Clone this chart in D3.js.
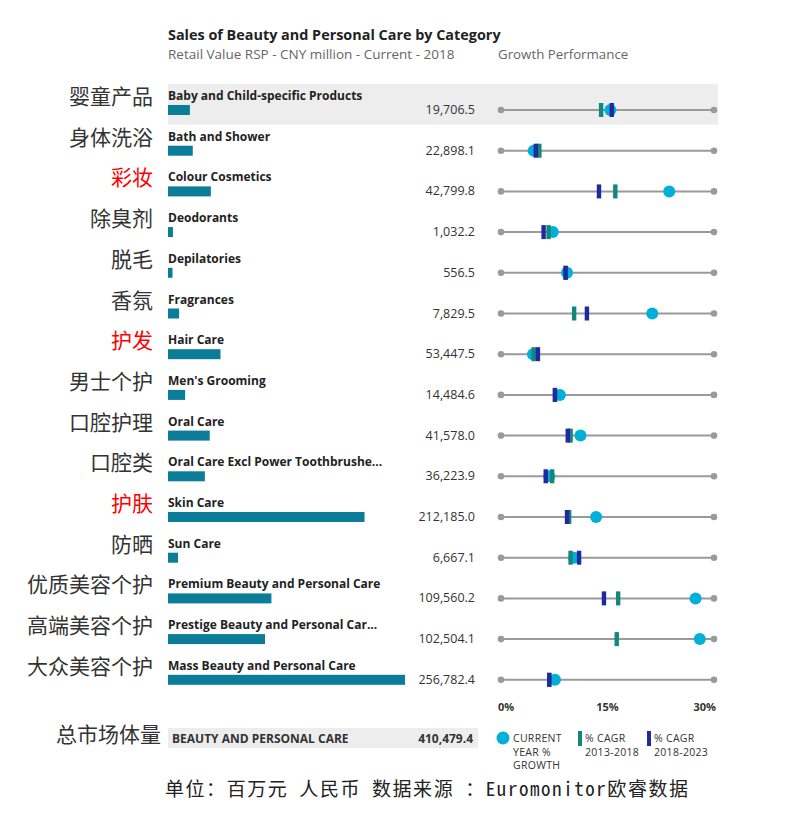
<!DOCTYPE html>
<html><head><meta charset="utf-8">
<script src="https://cdn.jsdelivr.net/npm/d3@7"></script>
<style>body{margin:0;background:#fff}</style>
</head><body>
<svg id="c" width="786" height="824"></svg>
<script>
const categories = ["Baby and Child-specific Products","Bath and Shower","Colour Cosmetics","Deodorants","Depilatories","Fragrances","Hair Care","Men's Grooming","Oral Care","Oral Care Excl Power Toothbrushe...","Skin Care","Sun Care","Premium Beauty and Personal Care","Prestige Beauty and Personal Car...","Mass Beauty and Personal Care"];
const chineseLabels = ["婴童产品","身体洗浴","彩妆","除臭剂","脱毛","香氛","护发","男士个护","口腔护理","口腔类","护肤","防晒","优质美容个护","高端美容个护","大众美容个护"];
const highlighted = ["彩妆","护发","护肤"];
const salesValues = [19706.5,22898.1,42799.8,1032.2,556.5,7829.5,53447.5,14484.6,41578.0,36223.9,212185.0,6667.1,109560.2,102504.1,256782.4];
const currentGrowth = [15.4,4.6,23.7,7.3,9.3,21.3,4.5,8.3,11.2,6.8,13.4,10.3,27.4,28.0,7.6];
const cagr2013_2018 = [14.1,5.4,16.1,6.7,9.1,10.3,4.6,7.6,9.8,7.2,9.6,9.8,16.5,16.3,6.8];
const cagr2018_2023 = [15.6,4.9,13.8,6.0,9.1,12.1,5.2,7.6,9.4,6.3,9.3,11.0,14.5,null,6.8];
const growthTicks = [0,15,30];
const totalLabel = "BEAUTY AND PERSONAL CARE";
const totalValue = 410479.4;

const svg = d3.select("#c");
const latin = "'Open Sans', Lato, sans-serif";
const cjk = "'Noto Sans CJK SC', sans-serif";
const BAR = "#0b7d98", CIRC = "#00b0d8", TEAL = "#12877a", NAVY = "#2129a0";

svg.append("text").attr("x",168).attr("y",40).attr("font-family",latin).attr("font-weight","bold").attr("font-size",14.4).attr("fill","#222").text("Sales of Beauty and Personal Care by Category");
svg.append("text").attr("x",168).attr("y",59).attr("font-family",latin).attr("font-size",13.5).attr("fill","#666").text("Retail Value RSP - CNY million - Current - 2018");
svg.append("text").attr("x",498).attr("y",59).attr("font-family",latin).attr("font-size",13.3).attr("fill","#666").text("Growth Performance");

const y = d3.scaleBand().domain(categories).range([84, 84 + 15*40.7]).padding(0);
const xBar = d3.scaleLinear().domain([0, 256782.4]).range([172, 405]);
const xG = d3.scaleLinear().domain([0, 30]).range([501, 714]);
const fmt = d3.format(",.1f");

// highlight row 0
svg.append("rect").attr("x",168).attr("y",y(categories[0])).attr("width",550).attr("height",y.bandwidth()).attr("fill","#ededed");

const rows = svg.selectAll("g.row").data(categories).join("g").attr("class","row")
  .attr("transform", d => `translate(0,${y(d)})`);

rows.append("text").attr("x",168).attr("y",16).attr("font-family",latin).attr("font-weight","bold").attr("font-size",12).attr("fill","#222").text(d=>d);
rows.append("rect").attr("x",168).attr("y",21).attr("height",10).attr("width",(d,i)=>xBar(salesValues[i])-168).attr("fill",BAR);
rows.append("text").attr("x",475).attr("y",30).attr("text-anchor","end").attr("font-family",latin).attr("font-size",12.5).attr("fill","#333").text((d,i)=>fmt(salesValues[i]));
rows.append("text").attr("x",153).attr("y",20).attr("text-anchor","end").attr("font-family",cjk).attr("font-size",21)
  .attr("fill",(d,i)=>highlighted.includes(chineseLabels[i])?"#ff0000":"#333").text((d,i)=>chineseLabels[i]);

rows.append("line").attr("x1",xG(0)).attr("x2",xG(30)).attr("y1",26).attr("y2",26).attr("stroke","#9a9a9a").attr("stroke-width",2);
rows.append("circle").attr("cx",xG(0)).attr("cy",26).attr("r",3.3).attr("fill","#9a9a9a");
rows.append("circle").attr("cx",xG(30)).attr("cy",26).attr("r",3.3).attr("fill","#9a9a9a");
rows.append("circle").attr("cx",(d,i)=>xG(currentGrowth[i])).attr("cy",26).attr("r",6).attr("fill",CIRC);
rows.append("rect").attr("x",(d,i)=>xG(cagr2013_2018[i])-2.2).attr("y",19).attr("width",4.4).attr("height",14).attr("fill",TEAL);
rows.filter((d,i)=>cagr2018_2023[i]!=null).append("rect")
  .attr("x",d=>xG(cagr2018_2023[categories.indexOf(d)])-2.2).attr("y",19).attr("width",4.4).attr("height",14).attr("fill",NAVY);

// axis ticks
svg.selectAll("text.tick").data(growthTicks).join("text").attr("class","tick")
  .attr("x",d=>xG(d)).attr("y",711)
  .attr("text-anchor",(d,i)=>i===0?"start":(i===growthTicks.length-1?"end":"middle"))
  .attr("dx",(d,i)=>i===0?-3:(i===growthTicks.length-1?2:0))
  .attr("font-family",latin).attr("font-weight","bold").attr("font-size",11).attr("fill","#333").text(d=>d+"%");

// total row
svg.append("text").attr("x",161).attr("y",742).attr("text-anchor","end").attr("font-family",cjk).attr("font-size",21).attr("fill","#333").text("总市场体量");
svg.append("rect").attr("x",168).attr("y",728).attr("width",310).attr("height",20).attr("fill","#ededed");
svg.append("text").attr("x",172).attr("y",743).attr("font-family",latin).attr("font-weight","bold").attr("font-size",12).attr("fill","#333").text(totalLabel);
svg.append("text").attr("x",473).attr("y",743).attr("text-anchor","end").attr("font-family",latin).attr("font-weight","bold").attr("font-size",12).attr("fill","#333").text(fmt(totalValue));

// legend
const lg = svg.append("g").attr("font-family",latin).attr("font-size",10.5).attr("fill","#333").attr("letter-spacing","0.3");
lg.append("circle").attr("cx",503).attr("cy",738).attr("r",6.5).attr("fill",CIRC);
[["CURRENT",742],["YEAR %",756],["GROWTH",769]].forEach(([t,yy])=>lg.append("text").attr("x",513).attr("y",yy).text(t));
lg.append("rect").attr("x",578).attr("y",731).attr("width",4).attr("height",15).attr("fill",TEAL);
lg.append("text").attr("x",585).attr("y",742).text("% CAGR");
lg.append("text").attr("x",585).attr("y",756).text("2013-2018");
lg.append("rect").attr("x",647).attr("y",731).attr("width",4).attr("height",15).attr("fill",NAVY);
lg.append("text").attr("x",654).attr("y",742).text("% CAGR");
lg.append("text").attr("x",654).attr("y",756).text("2018-2023");

// footer
svg.append("text").attr("x",165).attr("y",796).attr("font-family","'Noto Sans Mono CJK SC','Noto Sans CJK SC', monospace").attr("font-size",19).attr("fill","#222")
  .attr("textLength",523).attr("lengthAdjust","spacing").text("单位：百万元 人民币 数据来源 ：Euromonitor欧睿数据");
</script>
</body></html>
